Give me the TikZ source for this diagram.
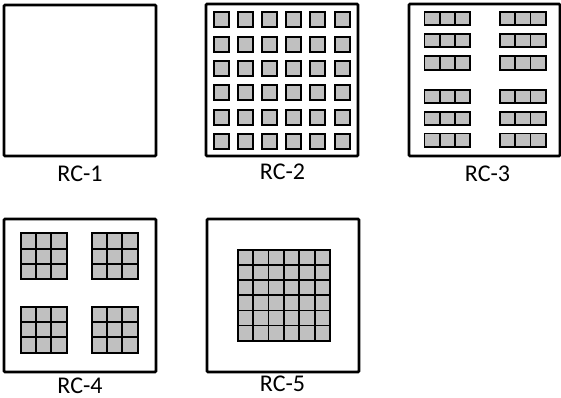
\documentclass[tikz,border=0pt]{standalone}
\usepackage{fontspec}
\setmainfont{Carlito}
\usetikzlibrary{positioning}
\definecolor{cellgray}{HTML}{C0C0C0}

\begin{document}
\begin{tikzpicture}[
    x=1pt, y=-1pt,
    font=\fontsize{24}{28}\selectfont,
    chip/.style={draw, line width=2.8pt, rounded corners=1pt},
    pad/.style={draw, line width=2pt, fill=cellgray},
    cell/.style={draw, line width=1.8pt, fill=cellgray},
    caption/.style={inner sep=0pt, anchor=base},
]
\useasboundingbox (0,0) rectangle (561,398);

% Outlines
\draw[chip] (4,5) rectangle (156,156);
\draw[chip] (206,4) rectangle (358,156);
\draw[chip] (409,4) rectangle (560,156);
\draw[chip] (4,219) rectangle (156,372);
\draw[chip] (207,219) rectangle (359,372);

% RC-2: 6x6 separate pads
\foreach \i in {0,...,5} {
    \foreach \j in {0,...,5} {
        \draw[pad] ({213.5+24.2*\i},{12.5+24.3*\j}) rectangle ++(15,15);
    }
}

% RC-3: rows of three cells, two columns
\foreach \gx in {424.5, 500} {
    \foreach \gy in {11.7, 34, 56.3, 90, 112, 133.5} {
        \foreach \k in {0,1,2} {
            \draw[cell] ({\gx+15.2*\k},\gy) rectangle ++(15.2,13.4);
        }
    }
}

% RC-4: four 3x3 blocks
\foreach \gx in {20.7, 91.7} {
    \foreach \gy in {233.3, 306.7} {
        \foreach \i in {0,1,2} {
            \foreach \j in {0,1,2} {
                \draw[cell] ({\gx+15.3*\i},{\gy+15.3*\j}) rectangle ++(15.3,15.3);
            }
        }
    }
}

% RC-5: one 6x6 block
\foreach \i in {0,...,5} {
    \foreach \j in {0,...,5} {
        \draw[cell] ({237.7+15.4*\i},{250+15.1*\j}) rectangle ++(15.4,15.1);
    }
}

% Labels
\node[caption] (lab1) at (80,181) {RC-1};
\node[caption] (lab2) at (282.5,179) {RC-2};
\node[caption] (lab3) at (487.5,181) {RC-3};
\node[caption] (lab4) at (80,393) {RC-4};
\node[caption] (lab5) at (282.5,391) {RC-5};

\end{tikzpicture}
\end{document}
